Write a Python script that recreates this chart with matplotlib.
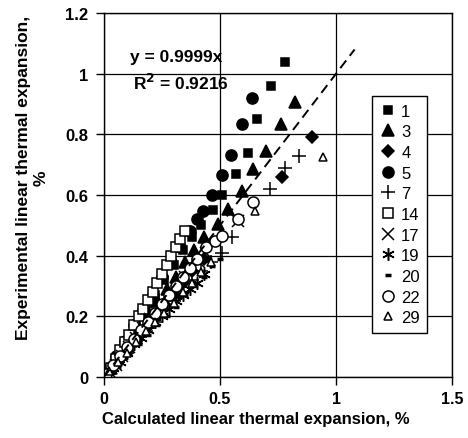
import matplotlib.pyplot as plt

plt.rcParams['font.family'] = ['Liberation Sans', 'DejaVu Sans']

# series values (calculated, experimental)
x1 = [0.02, 0.06, 0.10, 0.14, 0.18, 0.22, 0.26, 0.30, 0.34, 0.38, 0.42, 0.47, 0.51, 0.57, 0.62, 0.66, 0.72, 0.78]
y1 = [0.02, 0.07, 0.12, 0.17, 0.22, 0.27, 0.32, 0.37, 0.42, 0.46, 0.50, 0.55, 0.60, 0.67, 0.74, 0.85, 0.96, 1.04]

x3 = [0.03, 0.07, 0.11, 0.15, 0.19, 0.23, 0.27, 0.31, 0.35, 0.39, 0.43, 0.49, 0.535, 0.594, 0.642, 0.70, 0.763, 0.823]
y3 = [0.03, 0.08, 0.12, 0.16, 0.21, 0.25, 0.29, 0.33, 0.38, 0.42, 0.46, 0.505, 0.554, 0.614, 0.686, 0.746, 0.835, 0.907]

x4 = [0.02, 0.06, 0.10, 0.14, 0.18, 0.22, 0.26, 0.30, 0.34, 0.38, 0.43, 0.767, 0.897]
y4 = [0.02, 0.05, 0.09, 0.13, 0.16, 0.20, 0.24, 0.27, 0.31, 0.35, 0.39, 0.66, 0.79]

x5 = [0.02, 0.05, 0.09, 0.13, 0.17, 0.21, 0.25, 0.29, 0.33, 0.37, 0.40, 0.427, 0.466, 0.508, 0.547, 0.595, 0.64]
y5 = [0.03, 0.07, 0.12, 0.17, 0.22, 0.27, 0.33, 0.38, 0.43, 0.48, 0.52, 0.548, 0.60, 0.667, 0.733, 0.835, 0.92]

x7 = [0.02, 0.06, 0.10, 0.14, 0.18, 0.22, 0.26, 0.30, 0.34, 0.38, 0.42, 0.46, 0.51, 0.55, 0.716, 0.78, 0.84]
y7 = [0.01, 0.05, 0.08, 0.12, 0.15, 0.18, 0.22, 0.25, 0.28, 0.32, 0.35, 0.38, 0.41, 0.46, 0.62, 0.69, 0.73]

x14 = [0.01, 0.03, 0.05, 0.07, 0.09, 0.11, 0.13, 0.15, 0.17, 0.19, 0.21, 0.23, 0.25, 0.27, 0.29, 0.31, 0.33, 0.35]
y14 = [0.01, 0.03, 0.06, 0.09, 0.115, 0.14, 0.17, 0.20, 0.225, 0.255, 0.28, 0.31, 0.34, 0.37, 0.40, 0.43, 0.455, 0.48]

x17 = [0.02, 0.05, 0.08, 0.11, 0.14, 0.17, 0.20, 0.23, 0.26, 0.29, 0.32, 0.35, 0.38, 0.41, 0.44, 0.578]
y17 = [0.02, 0.04, 0.07, 0.10, 0.13, 0.16, 0.19, 0.21, 0.24, 0.27, 0.30, 0.33, 0.36, 0.38, 0.41, 0.515]

x19 = [0.01, 0.04, 0.07, 0.10, 0.13, 0.16, 0.19, 0.22, 0.25, 0.28, 0.31, 0.34, 0.37, 0.40, 0.43]
y19 = [0.00, 0.03, 0.05, 0.08, 0.11, 0.13, 0.155, 0.18, 0.20, 0.225, 0.25, 0.27, 0.29, 0.31, 0.34]

x20 = [0.03, 0.07, 0.11, 0.15, 0.19, 0.23, 0.27, 0.31, 0.35, 0.39, 0.43, 0.466, 0.50]
y20 = [0.02, 0.05, 0.08, 0.11, 0.14, 0.17, 0.20, 0.23, 0.27, 0.30, 0.33, 0.366, 0.39]

x22 = [0.01, 0.04, 0.07, 0.10, 0.13, 0.16, 0.19, 0.22, 0.25, 0.28, 0.31, 0.34, 0.37, 0.40, 0.44, 0.48, 0.51, 0.578, 0.642]
y22 = [0.01, 0.04, 0.07, 0.10, 0.125, 0.155, 0.18, 0.21, 0.24, 0.27, 0.30, 0.33, 0.36, 0.39, 0.43, 0.45, 0.465, 0.52, 0.578]

x29 = [0.02, 0.06, 0.10, 0.14, 0.18, 0.22, 0.26, 0.30, 0.34, 0.38, 0.42, 0.46, 0.65, 0.945]
y29 = [0.02, 0.05, 0.08, 0.115, 0.15, 0.18, 0.21, 0.245, 0.28, 0.31, 0.345, 0.38, 0.548, 0.726]

slope = 0.9999
r2 = 0.9216
trend_x = [0, 1.08]

fig = plt.figure(figsize=(4.68, 4.39), dpi=100)
ax = fig.add_axes([0.222, 0.139, 0.744, 0.829])

# label, x, y, marker, face colour, size, edge width
series = [
    ('1', x1, y1, 's', 'black', 6, 1.1),
    ('3', x3, y3, '^', 'black', 8, 1.1),
    ('4', x4, y4, 'D', 'black', 6, 1.1),
    ('5', x5, y5, 'o', 'black', 8, 1.1),
    ('7', x7, y7, '+', 'black', 10, 1.1),
    ('14', x14, y14, 's', 'white', 7.5, 1.1),
    ('17', x17, y17, 'x', 'black', 8, 1.1),
    ('19', x19, y19, (6, 2, 0), 'black', 9, 1.1),
    ('20', x20, y20, '_', 'black', 5, 2.5),
    ('22', x22, y22, 'o', 'white', 8, 1.1),
    ('29', x29, y29, '^', 'white', 6, 1.1),
]
for lab, xs, ys, mk, fc, ms, mew in series:
    ax.plot(xs, ys, linestyle='none', marker=mk, markersize=ms,
            markerfacecolor=fc, markeredgecolor='black', markeredgewidth=mew,
            color='black', label=lab)

ax.plot(trend_x, [slope * v for v in trend_x], color='black', linestyle=(0, (5, 3)), lw=1.4)

ax.text(0.112, 1.056, 'y = 0.9999x', fontsize=12.5, fontweight='bold', va='center')
ax.text(0.125, 0.973, 'R$^\\mathbf{2}$ = 0.9216', fontsize=12.5, fontweight='bold', va='center')

ax.set_xlim(0, 1.5)
ax.set_ylim(0, 1.2)
ax.set_xticks([0, 0.5, 1, 1.5])
ax.set_xticklabels(['0', '0.5', '1', '1.5'])
ax.set_yticks([0, 0.2, 0.4, 0.6, 0.8, 1, 1.2])
ax.set_yticklabels(['0', '0.2', '0.4', '0.6', '0.8', '1', '1.2'])
ax.grid(True, color='black', lw=0.9)
ax.set_axisbelow(True)
for s in ax.spines.values():
    s.set_linewidth(1.0)
ax.tick_params(axis='y', direction='out', length=6, width=1, labelsize=12, pad=5)
ax.tick_params(axis='x', direction='out', length=6, width=1, labelsize=11.5, pad=4)
for t in ax.get_xticklabels() + ax.get_yticklabels():
    t.set_fontweight('bold')

ax.set_xlabel('Calculated linear thermal expansion, %', fontsize=12, fontweight='bold')
ax.xaxis.set_label_coords(0.437, -0.094)
ax.set_ylabel('Experimental linear thermal expansion,\n%', fontsize=12.5, fontweight='bold')
ax.yaxis.set_label_coords(-0.16, 0.55)

leg = ax.legend(loc='upper left', bbox_to_anchor=(0.77, 0.772), frameon=True, fancybox=False,
                edgecolor='black', fontsize=12, handlelength=1.0, handletextpad=0.3,
                labelspacing=0.34, borderpad=0.45, borderaxespad=0, markerscale=1.0, framealpha=1)
leg.get_frame().set_linewidth(1.0)

fig.savefig('out.png', dpi=100)
